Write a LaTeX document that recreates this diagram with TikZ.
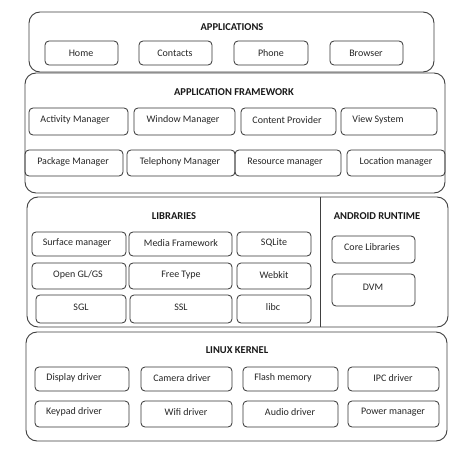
\documentclass[tikz,border=0pt]{standalone}
\usepackage{fontspec}
\setmainfont{Carlito}
\begin{document}
\begin{tikzpicture}[x=1pt,y=-1pt,
  outer/.style={draw=black!75,line width=0.9pt,rounded corners=11pt},
  inner/.style={draw=black!80,line width=0.8pt,rounded corners=4pt},
  lbl/.style={font=\fontsize{10}{12}\selectfont,text=black!85,inner sep=0pt},
  ttl/.style={font=\fontsize{10.5}{12}\selectfont\bfseries,text=black!90,inner sep=0pt}]
\fill[white] (0,0) rectangle (472,460);
\useasboundingbox (0,0) rectangle (472,460);
% Applications
\draw[outer] (29,12) rectangle (434,72);
\node[ttl] (tapp) at (232,27) {APPLICATIONS};
\draw[inner] (45,41) rectangle (118,65);   \node[lbl] (home) at (81,53) {Home};
\draw[inner] (139,41) rectangle (212,65);  \node[lbl] (contacts) at (175,53) {Contacts};
\draw[inner] (234,41) rectangle (308,65);  \node[lbl] (phone) at (271,53) {Phone};
\draw[inner] (330,41) rectangle (403,65);  \node[lbl] (browser) at (366,53) {Browser};
% Application framework
\draw[outer] (25,73) rectangle (445,193);
\node[ttl] (taf) at (234,92) {APPLICATION FRAMEWORK};
\draw[inner] (29,108) rectangle (128,135);  \node[lbl] (act) at (75,120) {Activity Manager};
\draw[inner] (134,108) rectangle (235,135); \node[lbl] (win) at (183,120) {Window Manager};
\draw[inner] (241,108) rectangle (336,135); \node[lbl] (cont) at (287,120) {Content Provider};
\draw[inner] (341,108) rectangle (437,135); \node[lbl] (view) at (378,120) {View System};
\draw[inner] (25,150) rectangle (123,176);  \node[lbl] (pack) at (73,162) {Package Manager};
\draw[inner] (127,150) rectangle (235,176); \node[lbl] (tel) at (180,162) {Telephony Manager};
\draw[inner] (235,150) rectangle (341,176); \node[lbl] (res) at (285,162) {Resource manager};
\draw[inner] (347,150) rectangle (445,176); \node[lbl] (loc) at (396,162) {Location manager};
% Libraries + runtime
\draw[outer] (27,197) rectangle (448,327);
\coordinate (dtop) at (320,197);
\coordinate (dbot) at (320,327);
\draw[draw=black!75,line width=0.9pt] (dtop) -- (dbot);
\node[ttl] (tlib) at (174,216) {LIBRARIES};
\node[ttl] (trt) at (377,216) {ANDROID RUNTIME};
\draw[inner] (32,232) rectangle (126,256);  \node[lbl] (surf) at (77,243) {Surface manager};
\draw[inner] (129,232) rectangle (232,256); \node[lbl] (media) at (181,243) {Media Framework};
\draw[inner] (237,232) rectangle (311,256); \node[lbl] (sqlite) at (274,243) {SQLite};
\draw[inner] (32,263) rectangle (126,289);  \node[lbl] (ogl) at (78,275) {Open GL/GS};
\draw[inner] (129,263) rectangle (232,289); \node[lbl] (ft) at (181,275) {Free Type};
\draw[inner] (237,263) rectangle (311,289); \node[lbl] (webkit) at (274,275) {Webkit};
\draw[inner] (36,295) rectangle (126,323);  \node[lbl] (sgl) at (81,307) {SGL};
\draw[inner] (130,295) rectangle (232,323); \node[lbl] (ssl) at (181,307) {SSL};
\draw[inner] (237,295) rectangle (311,323); \node[lbl] (libc) at (273,307) {libc};
\draw[inner] (332,236) rectangle (415,263); \node[lbl] (core) at (372,247) {Core Libraries};
\draw[inner] (332,274) rectangle (415,306); \node[lbl] (dvm) at (373,287) {DVM};
% Linux kernel
\draw[outer] (26,332) rectangle (447,441);
\node[ttl] (tlk) at (237,350) {LINUX KERNEL};
\draw[inner] (35,367) rectangle (129,391);  \node[lbl] (disp) at (74,378) {Display driver};
\draw[inner] (141,367) rectangle (232,391); \node[lbl] (cam) at (182,378) {Camera driver};
\draw[inner] (243,367) rectangle (338,391); \node[lbl] (flash) at (283,378) {Flash memory};
\draw[inner] (348,367) rectangle (439,391); \node[lbl] (ipc) at (393,378) {IPC driver};
\draw[inner] (35,401) rectangle (129,427);  \node[lbl] (key) at (74,412) {Keypad driver};
\draw[inner] (141,401) rectangle (232,427); \node[lbl] (wifi) at (186,412) {Wifi driver};
\draw[inner] (243,401) rectangle (338,427); \node[lbl] (audio) at (290,412) {Audio driver};
\draw[inner] (348,401) rectangle (439,427); \node[lbl] (power) at (393,412) {Power manager};
\end{tikzpicture}
\end{document}
